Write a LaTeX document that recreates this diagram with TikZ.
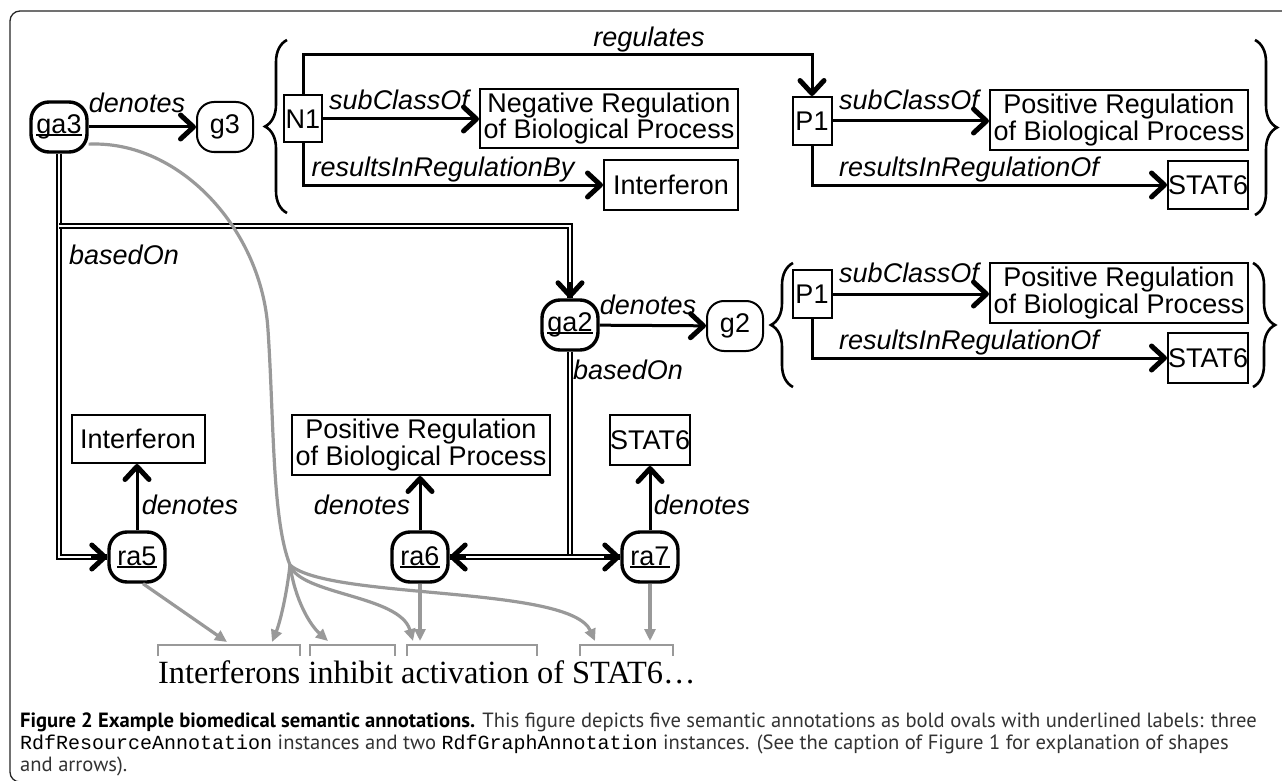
\documentclass[tikz,border=0pt]{standalone}
\usepackage{fontspec}
\setmainfont{Liberation Sans}
\newfontfamily\capfont{PT Sans}
\newfontfamily\codefont{Liberation Mono}
\newfontfamily\sentfont{Liberation Serif}
\usetikzlibrary{arrows.meta,decorations.pathreplacing}

% underlined label for annotation nodes
\newcommand\annul[1]{\setbox0\hbox{#1}\rlap{\rule[-2.5pt]{\wd0}{2pt}}\box0}

\tikzset{
  every node/.style={font=\fontsize{27}{22}\selectfont},
  ann/.style={draw, line width=3.4pt, rounded corners=18pt, minimum width=56pt, minimum height=50pt, inner sep=0pt},
  res/.style={draw, line width=2pt, rounded corners=17pt, minimum width=56pt, minimum height=50pt, inner sep=0pt},
  cls/.style={draw, line width=2pt, inner sep=0pt, align=center},
  statbox/.style={cls, minimum width=80pt, minimum height=48pt, inner xsep=-2.5pt},
  widebox/.style={cls, minimum width=258pt, minimum height=60pt},
  lbl/.style={font=\fontsize{27}{22}\selectfont\itshape, inner sep=0pt},
  blk/.style={line width=3pt, -{Straight Barb[length=13pt,width=24pt,line width=5pt,round]}},
  dbl/.style={double, line width=1.8pt, double distance=2.6pt},
  gline/.style={draw=gray!80, line width=3.2pt},
  gry/.style={gline, -{Triangle[length=12pt,width=11pt]}},
  gbr/.style={draw=gray!80, line width=2.2pt},
  brc/.style={decorate, decoration={brace, amplitude=22pt}, line width=2.6pt},
  capstyle/.style={font=\capfont\fontsize{20.6}{22}\selectfont, text=black!80, inner sep=0pt, anchor=base west},
}
\newcommand\codeword[1]{{\codefont\fontsize{20}{22}\selectfont\color{black}#1}}

\begin{document}
\begin{tikzpicture}[x=1pt,y=-1pt]
\useasboundingbox (0,0) rectangle (1282,781);
\fill[white] (0,0) rectangle (1282,781);
% outer frame
\draw[line width=1.3pt, black!85, rounded corners=10pt] (1300,11) -- (10,11) -- (10,782) -- (1300,782);

% ---- graph annotation ga3 and its graph g3 ----
\node[ann] (ga3) at (59,127) {\annul{ga3}};
\node[res] (g3) at (225,127) {g3};
\draw[blk] (ga3) -- (g3);
\node[lbl] (lga3) at (137,103) {denotes};
\draw[brc] (287,213) -- (287,40);
\draw[brc] (1255,40) -- (1255,215);

\node[cls, minimum width=38pt, minimum height=47pt] (N1) at (303,119) {N1};
\node[widebox, minimum height=59pt] (neg) at (609,118.5) {Negative Regulation\\of Biological Process};
\node[cls, minimum width=134pt, minimum height=50pt] (intf1) at (671,185) {Interferon};
\node[cls, minimum width=39pt, minimum height=48pt] (P1a) at (812,121) {P1};
\node[widebox] (pos1) at (1119,120) {Positive Regulation\\of Biological Process};
\node[statbox] (stat1) at (1208,185) {STAT6};

\coordinate (rg) at (560,55);
\draw[blk] (N1.east) -- (neg.west |- N1.east);
\draw[blk] (N1.south) |- (intf1.west);
\draw[blk] (N1.north) |- (rg) -| (P1a.north);
\draw[blk] (P1a.east) -- (pos1.west |- P1a.east);
\draw[blk] (P1a.south) |- (stat1.west);
\node[lbl] (lsub1) at (399,100) {subClassOf};
\node[lbl] (lres1) at (443,170) {resultsInRegulationBy};
\node[lbl] (lreg) at (649,40) {regulates};
\node[lbl] (lsub2) at (909,100) {subClassOf};
\node[lbl] (lres2) at (969,170) {resultsInRegulationOf};

% ---- graph annotation ga2 and its graph g2 ----
\node[ann] (ga2) at (570,325) {\annul{ga2}};
\node[res] (g2) at (735,326) {g2};
\draw[blk] (ga2) -- (g2);
\node[lbl] (lga2) at (648,305) {denotes};
\draw[brc] (793,387) -- (793,263);
\draw[brc] (1253,263) -- (1253,387);

\node[cls, minimum width=39pt, minimum height=48pt] (P1b) at (812,294) {P1};
\node[widebox] (pos2) at (1119,293) {Positive Regulation\\of Biological Process};
\node[statbox, minimum height=50pt] (stat2) at (1208,358) {STAT6};
\draw[blk] (P1b.east) -- (pos2.west |- P1b.east);
\draw[blk] (P1b.south) |- (stat2.west);
\node[lbl] (lsub3) at (909,273) {subClassOf};
\node[lbl] (lres3) at (969,343) {resultsInRegulationOf};

% ---- resource annotations ----
\node[ann] (ra5) at (137,557) {\annul{ra5}};
\node[ann] (ra6) at (420,557) {\annul{ra6}};
\node[ann] (ra7) at (650,557) {\annul{ra7}};
\node[cls, minimum width=133pt, minimum height=48pt] (intf2) at (138,439) {Interferon};
\node[widebox] (pos3) at (421,445) {Positive Regulation\\of Biological Process};
\node[statbox, minimum height=50pt] (stat3) at (650,440) {STAT6};
\draw[blk] (ra5.north) -- (ra5.north |- intf2.south);
\draw[blk] (ra6.north) -- (ra6.north |- pos3.south);
\draw[blk] (ra7.north) -- (ra7.north |- stat3.south);
\node[lbl] (lra5) at (190,505) {denotes};
\node[lbl] (lra6) at (362,505) {denotes};
\node[lbl] (lra7) at (702,505) {denotes};

% ---- basedOn links (double lines) ----
\coordinate (j3) at (59,226);
\coordinate (j2) at (570,557);
\draw[dbl] (ga3.south) |- (ra5.west);
\draw[dbl] (j3) -| (ga2.north);
\draw[dbl] (ga2.south) -- (j2);
\draw[dbl] (ra6.east) -- (ra7.west);
\draw[blk] ([xshift=-16pt]ra5.west) -- (ra5.west);
\draw[blk] ([yshift=16pt]ga2.north) -- (ga2.north);
\draw[blk] ([xshift=16pt]ra6.east) -- (ra6.east);
\draw[blk] ([xshift=-16pt]ra7.west) -- (ra7.west);
\node[lbl] (lb3) at (124,255) {basedOn};
\node[lbl] (lb2) at (628,370) {basedOn};

% ---- text spans ----
\node[font=\sentfont\fontsize{32.4}{36}\selectfont, inner sep=0pt, anchor=base west] (sent) at (158,683) {Interferons inhibit activation of STAT6…};
\draw[gbr] (158,656) -- (158,645) -- (300,645) -- (300,656);
\draw[gbr] (310,656) -- (310,645) -- (395,645) -- (395,656);
\draw[gbr] (407,656) -- (407,645) -- (537,645) -- (537,656);
\draw[gbr] (580,656) -- (580,645) -- (673,645) -- (673,656);

\coordinate (t1) at (227,642);
\coordinate (t2) at (272,642);
\coordinate (t3) at (328,641);
\coordinate (t4) at (413,641);
\coordinate (t5) at (420,641);
\coordinate (t6) at (595,641);
\coordinate (t7) at (650,641);
\coordinate (split) at (290,565);

\draw[gline] (ga3.-30) .. controls (180,140) and (262,230) .. (268,330) .. controls (274,420) and (272,520) .. (split);
\draw[gry] (split) .. controls (286,600) and (279,625) .. (t2);
\draw[gry] (split) .. controls (295,600) and (310,625) .. (t3);
\draw[gry] (split) .. controls (300,595) and (400,595) .. (t4);
\draw[gry] (split) .. controls (330,600) and (570,585) .. (t6);
\draw[gry] ([xshift=6pt]ra5.south) -- (t1);
\draw[gry] (ra6.south) -- (t5);
\draw[gry] (ra7.south) -- (t7);

% ---- caption ----
\node[capstyle] (cap1) at (20,727) {{\bfseries\color{black} Figure 2 Example biomedical semantic annotations.} This figure depicts five semantic annotations as bold ovals with underlined labels: three};
\node[capstyle] (cap2) at (20,749) {\codeword{RdfResourceAnnotation} instances and two \codeword{RdfGraphAnnotation} instances. (See the caption of Figure 1 for explanation of shapes};
\node[capstyle] (cap3) at (20,771) {and arrows).};
\end{tikzpicture}
\end{document}
